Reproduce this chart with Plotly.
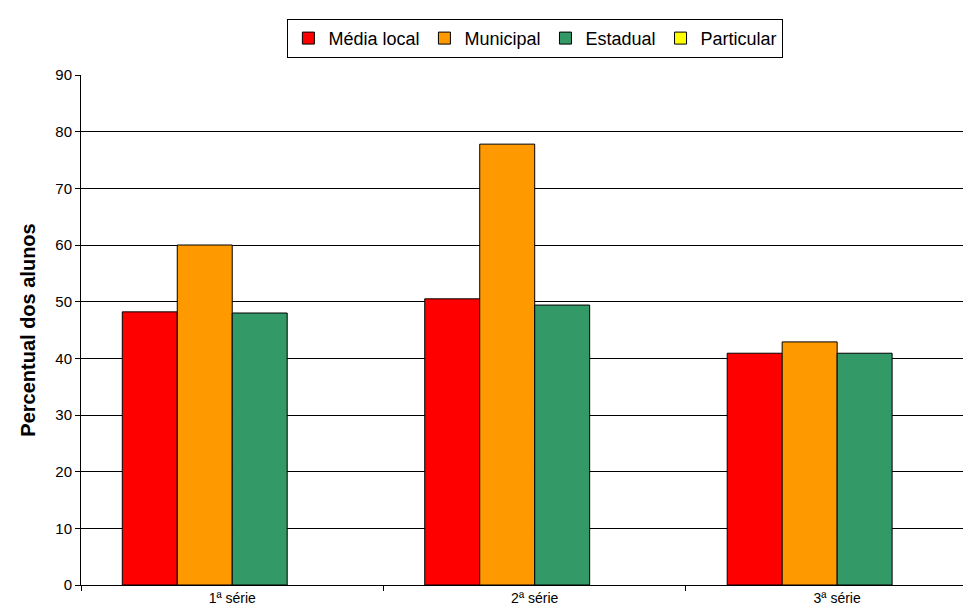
import plotly.graph_objects as go

categories = ["1ª série", "2ª série", "3ª série"]
media_local = [48.2, 50.5, 40.9]
municipal = [60.0, 77.8, 42.9]
estadual = [48.0, 49.4, 40.9]
particular = [None, None, None]

series = [
    ("Média local", media_local, "#FF0000"),
    ("Municipal", municipal, "#FF9900"),
    ("Estadual", estadual, "#339966"),
    ("Particular", particular, "#FFFF00"),
]

fig = go.Figure()
for name, vals, color in series:
    fig.add_trace(go.Bar(
        name=name, x=categories, y=vals,
        marker=dict(color=color, line=dict(color="black", width=1)),
    ))

fig.update_layout(
    width=971, height=609,
    margin=dict(l=73, r=0, t=67, b=32, autoexpand=False),
    barmode="group", bargap=0.273, bargroupgap=0,
    plot_bgcolor="white", paper_bgcolor="white",
    font=dict(family="Liberation Sans, Arial", color="black"),
    showlegend=True,
    legend=dict(
        orientation="h", x=0.506, xanchor="center", y=1.11, yanchor="top",
        bordercolor="black", borderwidth=1, font=dict(size=18),
        itemwidth=30, tracegroupgap=0,
    ),
    xaxis=dict(
        range=[-0.5, 2.469], showline=True, linecolor="black", linewidth=1,
        ticks="outside", tickson="boundaries", ticklen=5, tickcolor="black",
        tickfont=dict(size=14), showgrid=False, automargin=False,
    ),
    yaxis=dict(
        range=[0, 90], dtick=10, showline=True, linecolor="black", linewidth=1,
        ticks="outside", ticklen=5, tickcolor="black",
        showgrid=True, gridcolor="black", gridwidth=1, zeroline=False,
        tickfont=dict(size=15), automargin=False,
        title=dict(text="<b>Percentual dos alunos</b>", font=dict(size=20), standoff=14),
    ),
)

fig.write_html("out.html")
